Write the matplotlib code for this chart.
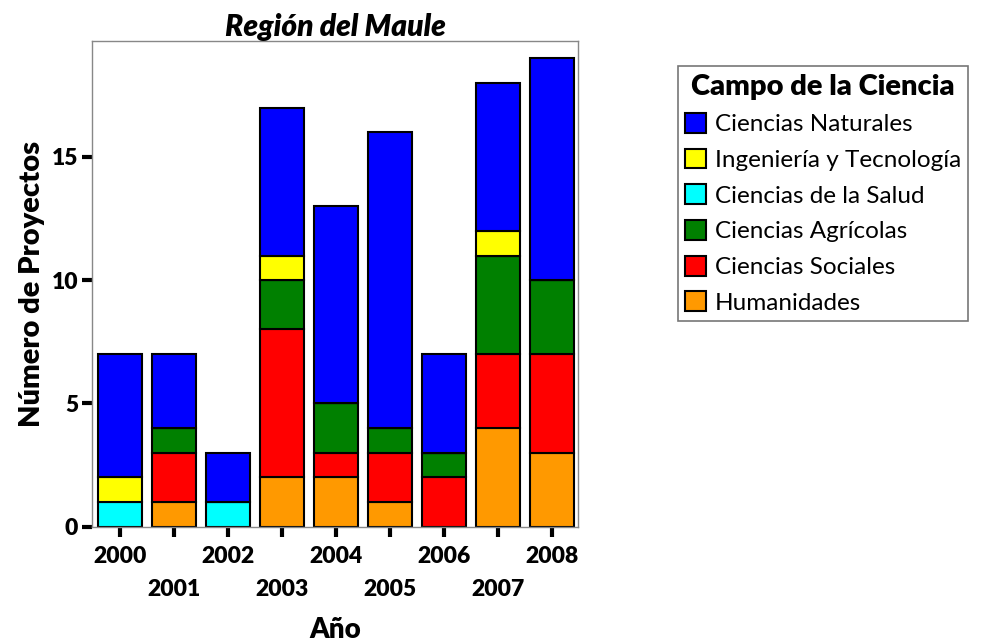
import matplotlib
matplotlib.use('Agg')
import matplotlib.pyplot as plt
import numpy as np

plt.rcParams['font.family'] = ['Lato', 'DejaVu Sans']

# data
years = ['2000', '2001', '2002', '2003', '2004', '2005', '2006', '2007', '2008']
humanidades = [0, 1, 0, 2, 2, 1, 0, 4, 3]
sociales = [0, 2, 0, 6, 1, 2, 2, 3, 4]
agricolas = [0, 1, 0, 2, 2, 1, 1, 4, 3]
salud = [1, 0, 1, 0, 0, 0, 0, 0, 0]
ingenieria = [1, 0, 0, 1, 0, 0, 0, 1, 0]
naturales = [5, 3, 2, 6, 8, 12, 4, 6, 9]

series = [
    ('Humanidades', humanidades, '#FF9900'),
    ('Ciencias Sociales', sociales, '#FF0000'),
    ('Ciencias Agrícolas', agricolas, '#008000'),
    ('Ciencias de la Salud', salud, '#00FFFF'),
    ('Ingeniería y Tecnología', ingenieria, '#FFFF00'),
    ('Ciencias Naturales', naturales, '#0000FF'),
]

fig = plt.figure(figsize=(9.82, 6.43), dpi=100)
ax = fig.add_axes([0.0937, 0.181, 0.4953, 0.755])

x = np.arange(len(years))
bottom = np.zeros(len(years))
handles = {}
for name, vals, color in series:
    vals = np.array(vals, dtype=float)
    bars = ax.bar(x, vals, bottom=bottom, width=0.83, color=color,
                  edgecolor='black', linewidth=1.5, label=name)
    handles[name] = bars
    bottom += vals

ax.set_xlim(-0.52, 8.49)
ax.set_ylim(0, 19.7)
ax.set_yticks([0, 5, 10, 15])
ax.set_xticks(x)
ax.set_xticklabels([y if i % 2 == 0 else '\n' + y for i, y in enumerate(years)],
                   fontsize=16.5, fontweight='heavy', linespacing=1.7)
for lab in ax.get_yticklabels():
    lab.set_fontsize(16.5)
    lab.set_fontweight('heavy')

for s in ax.spines.values():
    s.set_color('#888888')
    s.set_linewidth(1.0)
ax.tick_params(axis='both', direction='out', length=7, width=3, color='black', pad=3)
ax.tick_params(axis='x', pad=7)

ax.set_title('Región del Maule', fontsize=21.5, fontweight='heavy', style='italic', pad=4)
ax.set_xlabel('Año', fontsize=20, fontweight='heavy', labelpad=12)
ax.set_ylabel('Número de Proyectos', fontsize=21, fontweight='heavy', labelpad=5)

order = ['Ciencias Naturales', 'Ingeniería y Tecnología', 'Ciencias de la Salud',
         'Ciencias Agrícolas', 'Ciencias Sociales', 'Humanidades']
leg = fig.legend([handles[n] for n in order], order, loc='upper left',
                 bbox_to_anchor=(0.69, 0.897), fontsize=17.5,
                 title='Campo de la Ciencia', title_fontproperties={'size': 21, 'weight': 'heavy'},
                 frameon=True, fancybox=False, edgecolor='#555555',
                 handlelength=0.88, handleheight=0.88, handletextpad=0.35,
                 labelspacing=0.55, borderpad=0.3, borderaxespad=0)
leg.get_frame().set_linewidth(1.2)

plt.savefig('out.png', dpi=100)
